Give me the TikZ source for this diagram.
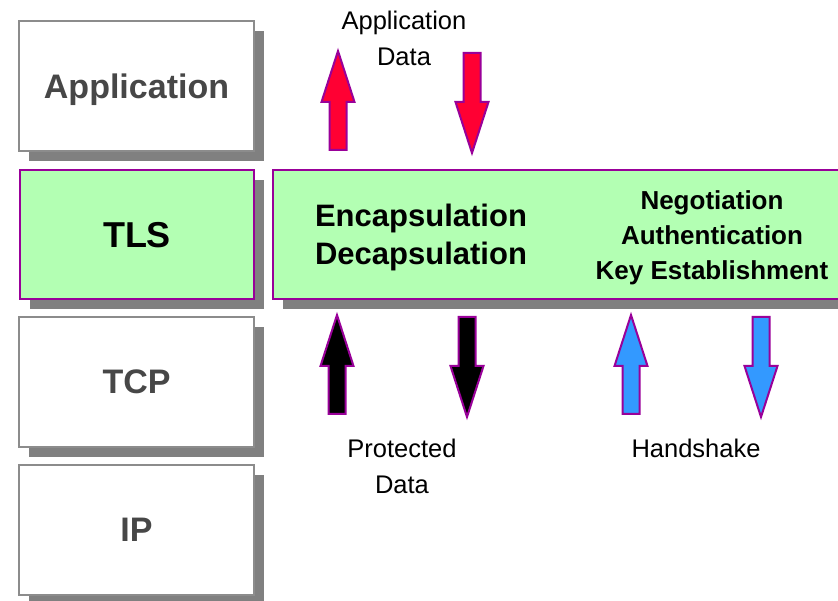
\documentclass[tikz,border=0pt]{standalone}
\usepackage{fontspec}
\setmainfont{Liberation Sans}
\usetikzlibrary{shadows}
\definecolor{tlsgreen}{HTML}{B3FFB3}
\definecolor{tlspurple}{HTML}{990099}
\definecolor{boxgray}{HTML}{8C8C8C}
\definecolor{shadowgray}{HTML}{808080}
\definecolor{textgray}{HTML}{474747}
\definecolor{arrred}{HTML}{FF0033}
\definecolor{arrblue}{HTML}{3399FF}
\tikzset{
  shad/.style={drop shadow={shadow xshift=10pt, shadow yshift=-10pt, fill=shadowgray, opacity=1}},
  layer/.style={shad, draw=boxgray, fill=white, line width=2pt, minimum width=235pt, minimum height=130pt,
    anchor=north west, inner sep=0pt, text depth=0pt, font=\fontsize{34}{40}\selectfont\bfseries, text=textgray},
  tlsbox/.style={shad, draw=tlspurple, fill=tlsgreen, line width=2pt, minimum height=129pt,
    anchor=north west, inner sep=0pt},
  boldtxt/.style={align=center, inner sep=0pt, text=black},
  lbl/.style={align=center, inner sep=0pt, font=\fontsize{25.5}{36}\selectfont},
  arrowbox/.style={draw=tlspurple, line width=2pt, line join=miter},
  uparr/.pic={\path[pic actions] (-8.5,0) -- (-8.5,-48) -- (-16.5,-48) -- (0,-99) -- (16.5,-48) -- (8.5,-48) -- (8.5,0) -- cycle;},
  downarr/.pic={\path[pic actions] (-8.5,0) -- (-8.5,49) -- (-16.5,49) -- (0,100) -- (16.5,49) -- (8.5,49) -- (8.5,0) -- cycle;}
}
\begin{document}
\begin{tikzpicture}[x=1pt,y=-1pt]
\clip (0,0) rectangle (838,601);
% left stack
\node[layer] (app) at (18,20) {Application};
\node[tlsbox, minimum width=234pt, text depth=0pt, font=\fontsize{36}{40}\selectfont\bfseries] (tls) at (19,169) {TLS};
\node[layer] (tcp) at (18,316) {TCP};
\node[layer] (ip) at (18,464) {IP};
% big TLS box
\node[tlsbox, minimum width=580pt] (big) at (272,169) {};
\node[boldtxt, font=\fontsize{31}{38}\selectfont\bfseries] (enc) at (421,237) {Encapsulation\\Decapsulation};
\node[boldtxt, font=\fontsize{26}{35}\selectfont\bfseries] (neg) at (712,238) {Negotiation\\Authentication\\Key Establishment};
% arrows
\pic[arrowbox, fill=arrred] (a1) at (338,150) {uparr};
\pic[arrowbox, fill=arrred] (a2) at (472,53) {downarr};
\pic[arrowbox, fill=black] (a3) at (337,414) {uparr};
\pic[arrowbox, fill=black] (a4) at (467,317) {downarr};
\pic[arrowbox, fill=arrblue] (a5) at (631,414) {uparr};
\pic[arrowbox, fill=arrblue] (a6) at (761,317) {downarr};
% labels
\node[lbl] (appdata) at (404,38) {Application\\Data};
\node[lbl] (protdata) at (402,466) {Protected\\Data};
\node[lbl] (hs) at (696,448) {Handshake};
\end{tikzpicture}
\end{document}
